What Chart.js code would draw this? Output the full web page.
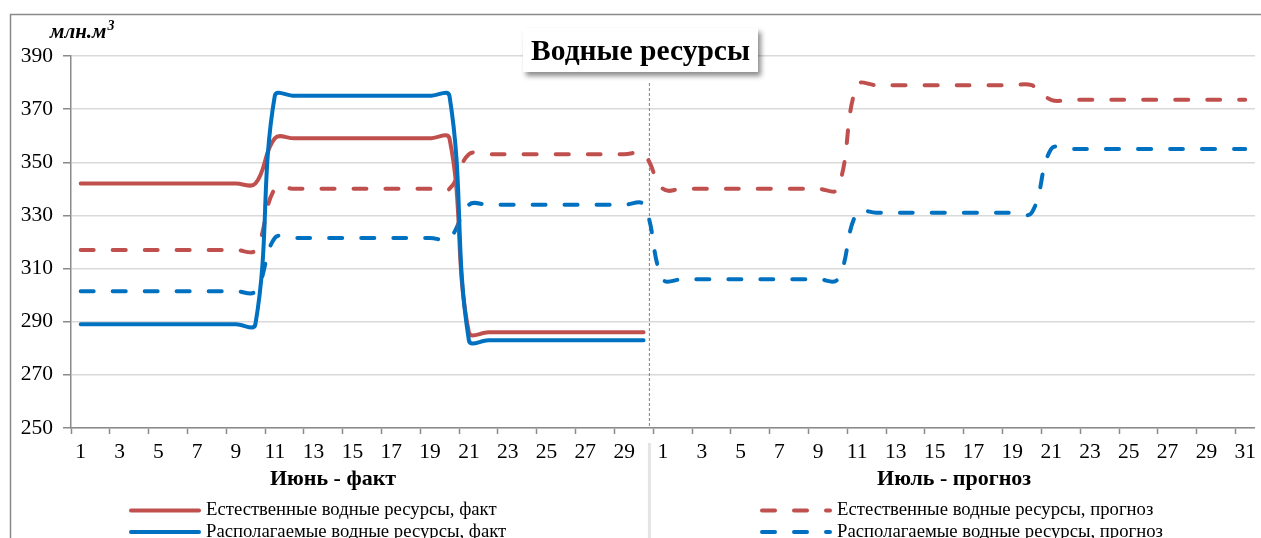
<!DOCTYPE html>
<html lang="ru">
<head>
<meta charset="utf-8">
<title>Водные ресурсы</title>
<script src="https://cdn.jsdelivr.net/npm/chart.js@4/dist/chart.umd.min.js"></script>
<style>
  html, body { margin: 0; padding: 0; background: #fff; }
  #wrap { width: 1261px; height: 538px; }
</style>
</head>
<body>
<div id="wrap"><canvas id="chart" width="1261" height="538"></canvas></div>
<script>
// Дни: июнь (факт) и июль (прогноз)
const days = ['1','2','3','4','5','6','7','8','9','10','11','12','13','14','15','16','17','18','19','20','21','22','23','24','25','26','27','28','29','30',
              '1','2','3','4','5','6','7','8','9','10','11','12','13','14','15','16','17','18','19','20','21','22','23','24','25','26','27','28','29','30','31'];

// млн.м3
const naturalFact = [342,342,342,342,342,342,342,342,342,342, 359,359,359,359,359,359,359,359,359,359, 286,286,286,286,286,286,286,286,286,286,
                     null,null,null,null,null,null,null,null,null,null, null,null,null,null,null,null,null,null,null,null, null,null,null,null,null,null,null,null,null,null,null];
const availableFact = [289,289,289,289,289,289,289,289,289,289, 375,375,375,375,375,375,375,375,375,375, 283,283,283,283,283,283,283,283,283,283,
                       null,null,null,null,null,null,null,null,null,null, null,null,null,null,null,null,null,null,null,null, null,null,null,null,null,null,null,null,null,null,null];
const naturalPlan = [317,317,317,317,317,317,317,317,317,317, 340,340,340,340,340,340,340,340,340,340, 353,353,353,353,353,353,353,353,353,353,
                     340,340,340,340,340,340,340,340,340,340, 379,379,379,379,379,379,379,379,379,379, 373.5,373.5,373.5,373.5,373.5,373.5,373.5,373.5,373.5,373.5,373.5];
const availablePlan = [301.5,301.5,301.5,301.5,301.5,301.5,301.5,301.5,301.5,301.5, 321.5,321.5,321.5,321.5,321.5,321.5,321.5,321.5,321.5,321.5, 334,334,334,334,334,334,334,334,334,334,
                       306,306,306,306,306,306,306,306,306,306, 331,331,331,331,331,331,331,331,331,331, 355,355,355,355,355,355,355,355,355,355,355];

const groups = ['Июнь - факт', 'Июль - прогноз'];
const seriesNames = ['Естественные водные ресурсы, факт', 'Располагаемые водные ресурсы, факт',
                     'Естественные водные ресурсы, прогноз', 'Располагаемые водные ресурсы, прогноз'];

const RED = '#c0504d';
const BLUE = '#0070c0';
const AXIS = '#8a8a8a';
const GRID = '#d9d9d9';
const SERIF = '"Liberation Serif", "Times New Roman", serif';
const DASH = [13, 19];

// рамка, заголовок, подписи групп, легенда
const decor = {
  id: 'decor',
  beforeDraw(chart) {
    const c = chart.ctx;
    c.save();
    c.fillStyle = '#fff';
    c.fillRect(0, 0, chart.width, chart.height);
    c.strokeStyle = AXIS;
    c.lineWidth = 1.5;
    c.beginPath();
    c.moveTo(10.5, chart.height);
    c.lineTo(10.5, 14.5);
    c.lineTo(chart.width, 14.5);
    c.stroke();
    c.restore();
  },
  beforeDatasetsDraw(chart) {
    const c = chart.ctx, x = chart.scales.x, a = chart.chartArea;
    const px = x.getPixelForValue(29) + 0.3 * (x.getPixelForValue(30) - x.getPixelForValue(29));
    c.save();
    c.strokeStyle = '#808080';
    c.lineWidth = 1;
    c.setLineDash([3, 2]);
    c.beginPath();
    c.moveTo(px, 83);
    c.lineTo(px, a.bottom);
    c.stroke();
    c.restore();
  },
  afterDraw(chart) {
    const c = chart.ctx, x = chart.scales.x;
    const px = x.getPixelForValue(29) + 0.3 * (x.getPixelForValue(30) - x.getPixelForValue(29));
    c.save();

    // разделитель под осью
    c.strokeStyle = '#e4e4e4';
    c.lineWidth = 3;
    c.beginPath();
    c.moveTo(px, 443);
    c.lineTo(px, chart.height);
    c.stroke();

    // подписи групп
    c.fillStyle = '#000';
    c.font = 'bold 22px ' + SERIF;
    c.textAlign = 'center';
    c.textBaseline = 'alphabetic';
    c.fillText(groups[0], x.getPixelForValue(13), 485);
    c.fillText(groups[1], x.getPixelForValue(45), 485);

    // единицы
    c.textAlign = 'left';
    c.font = 'italic bold 21px ' + SERIF;
    c.fillText('млн.м', 50, 38);
    const w = c.measureText('млн.м').width;
    c.font = 'italic bold 14px ' + SERIF;
    c.fillText('3', 50 + w + 1, 30);

    // заголовок в рамке с тенью
    c.save();
    c.shadowColor = 'rgba(0,0,0,0.45)';
    c.shadowBlur = 5;
    c.shadowOffsetX = 3;
    c.shadowOffsetY = 4;
    c.fillStyle = '#fff';
    c.fillRect(523, 28, 235, 44);
    c.restore();
    c.fillStyle = '#000';
    c.font = 'bold 29.5px ' + SERIF;
    c.textAlign = 'center';
    c.fillText('Водные ресурсы', 640.5, 60);

    // легенда
    const items = [
      { name: seriesNames[0], color: RED, dash: [], x: 131, y: 510.5 },
      { name: seriesNames[1], color: BLUE, dash: [], x: 131, y: 532 },
      { name: seriesNames[2], color: RED, dash: DASH, x: 762, y: 510.5 },
      { name: seriesNames[3], color: BLUE, dash: DASH, x: 762, y: 532 }
    ];
    c.font = '18.7px ' + SERIF;
    c.textAlign = 'left';
    c.textBaseline = 'middle';
    items.forEach(it => {
      c.strokeStyle = it.color;
      c.lineWidth = 4;
      c.lineCap = 'round';
      c.setLineDash(it.dash);
      c.beginPath();
      c.moveTo(it.x, it.y);
      c.lineTo(it.x + 68, it.y);
      c.stroke();
      c.setLineDash([]);
      c.fillStyle = '#000';
      c.fillText(it.name, it.x + 75, it.y);
    });
    c.restore();
  }
};

const lineStyle = { borderWidth: 4, pointRadius: 0, pointHoverRadius: 0, tension: 0.4,
                    borderCapStyle: 'round', borderJoinStyle: 'round', fill: false, spanGaps: false };

new Chart(document.getElementById('chart'), {
  type: 'line',
  data: {
    labels: days,
    datasets: [
      { ...lineStyle, label: seriesNames[1], data: availableFact, borderColor: BLUE },
      { ...lineStyle, label: seriesNames[0], data: naturalFact, borderColor: RED },
      { ...lineStyle, label: seriesNames[3], data: availablePlan, borderColor: BLUE, borderDash: DASH },
      { ...lineStyle, label: seriesNames[2], data: naturalPlan, borderColor: RED, borderDash: DASH }
    ]
  },
  options: {
    responsive: false,
    animation: false,
    layout: { padding: { left: 0, top: 56, right: 3, bottom: 0 } },
    plugins: { legend: { display: false }, tooltip: { enabled: false }, title: { display: false } },
    scales: {
      x: {
        type: 'category',
        offset: true,
        grid: {
          offset: true,
          drawOnChartArea: false,
          tickLength: 6,
          tickWidth: 1.5,
          tickColor: ctx => ctx.index % 2 === 0 ? AXIS : 'rgba(0,0,0,0)'
        },
        border: { color: AXIS, width: 1.5 },
        ticks: {
          autoSkip: false, maxRotation: 0, minRotation: 0, padding: 5, color: '#000',
          font: { family: SERIF, size: 21.5 },
          callback: function (v, i) { return i % 2 === 0 ? this.getLabelForValue(v) : ''; }
        },
        afterFit: s => { s.height = 110; }
      },
      y: {
        min: 250, max: 390,
        ticks: { stepSize: 20, padding: 10, color: '#000', font: { family: SERIF, size: 21.5 } },
        grid: { color: GRID, lineWidth: 1.5, tickLength: 8, tickColor: AXIS, tickWidth: 1.5 },
        border: { color: AXIS, width: 1.5 },
        afterFit: s => { s.width = 71; }
      }
    }
  },
  plugins: [decor]
});
</script>
</body>
</html>
